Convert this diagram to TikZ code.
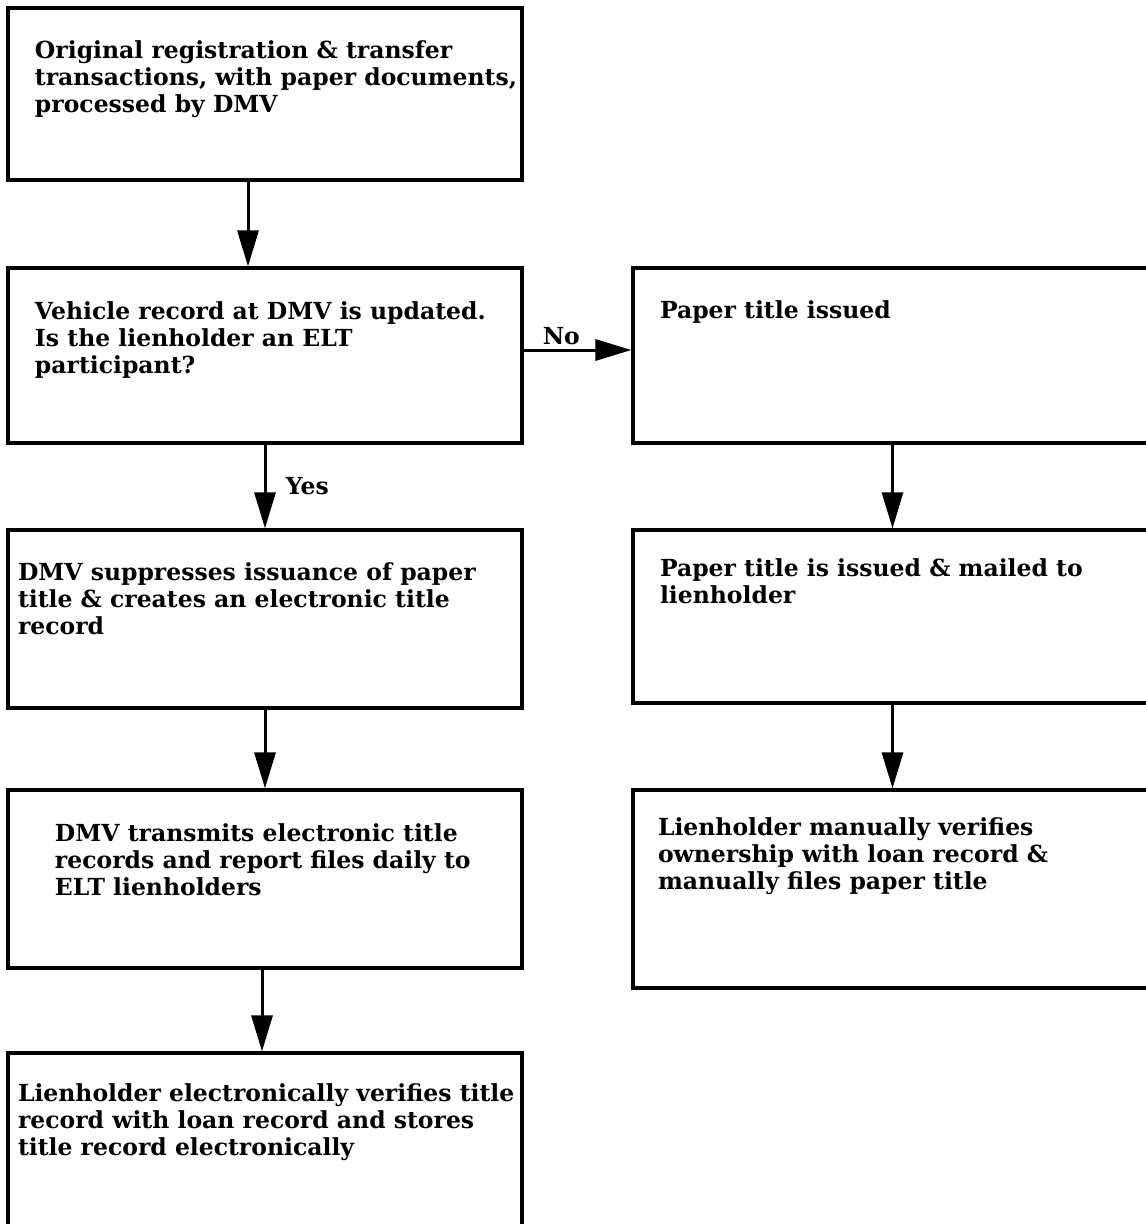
\documentclass[tikz,border=0pt]{standalone}
\usepackage{fontspec}
\setmainfont{DejaVu Serif}
\usepackage{tikz}
\usetikzlibrary{arrows.meta,positioning}
\newcommand{\boxtext}[5]{\parbox[c][#2][t]{#1}{\vspace*{#4}\raggedright\leftskip=#3\relax #5\par}}

\begin{document}
\begin{tikzpicture}[x=1pt,y=-1pt,
    stepbox/.style={draw,line width=3.2pt,inner sep=0pt,font=\fontsize{23.5}{27}\selectfont\bfseries},
    flow/.style={line width=3pt,-{Triangle[length=36pt,width=21pt]}},
    lbl/.style={font=\fontsize{23.5}{27}\selectfont\bfseries}]
          \clip (0,0) rectangle (1146,1224);

          % left column: ELT path
          \node[stepbox] (orig) at (265,94) {\boxtext{514pt}{172pt}{27pt}{33pt}{Original registration \& transfer\\ transactions, with paper documents,\\ processed by DMV}};
          \node[stepbox] (vehicle) at (265,355.5) {\boxtext{514pt}{175pt}{27pt}{34pt}{Vehicle record at DMV is updated.\\ Is the lienholder an ELT\\ participant?}};
          \node[stepbox] (suppress) at (265,619) {\boxtext{514pt}{178pt}{10pt}{33pt}{DMV suppresses issuance of paper\\ title \& creates an electronic title\\ record}};
          \node[stepbox] (transmit) at (265,879) {\boxtext{514pt}{178pt}{47pt}{34pt}{DMV transmits electronic title\\ records and report files daily to\\ ELT lienholders}};
          \node[stepbox] (verify) at (265,1146.5) {\boxtext{514pt}{187pt}{10pt}{31pt}{Lienholder electronically verifies title\\ record with loan record and stores\\ title record electronically}};

          % right column: paper path
          \node[stepbox] (paper) at (892.5,355.5) {\boxtext{519pt}{175pt}{27pt}{33pt}{Paper title issued}};
          \node[stepbox] (mailed) at (892.5,616.5) {\boxtext{519pt}{173pt}{27pt}{29pt}{Paper title is issued \& mailed to\\ lienholder}};
          \node[stepbox] (manual) at (892.5,889) {\boxtext{519pt}{198pt}{25pt}{28pt}{Lienholder manually verifies\\ ownership with loan record \&\\ manually files paper title}};

          \draw[flow] ([xshift=-17pt]orig.south) -- ([xshift=-17pt]vehicle.north);
          \draw[flow] (vehicle.south) -- node[lbl,right,xshift=16pt] (yes) {Yes} (suppress.north);
          \draw[flow] ([yshift=5.5pt]vehicle.east) -- node[lbl,above,pos=0.35] (no) {No} ([yshift=5.5pt]paper.west);
          \draw[flow] (suppress.south) -- (transmit.north);
          \draw[flow] ([xshift=-3pt]transmit.south) -- ([xshift=-3pt]verify.north);
          \draw[flow] (paper.south) -- (mailed.north);
          \draw[flow] (mailed.south) -- (manual.north);
\end{tikzpicture}
\end{document}
